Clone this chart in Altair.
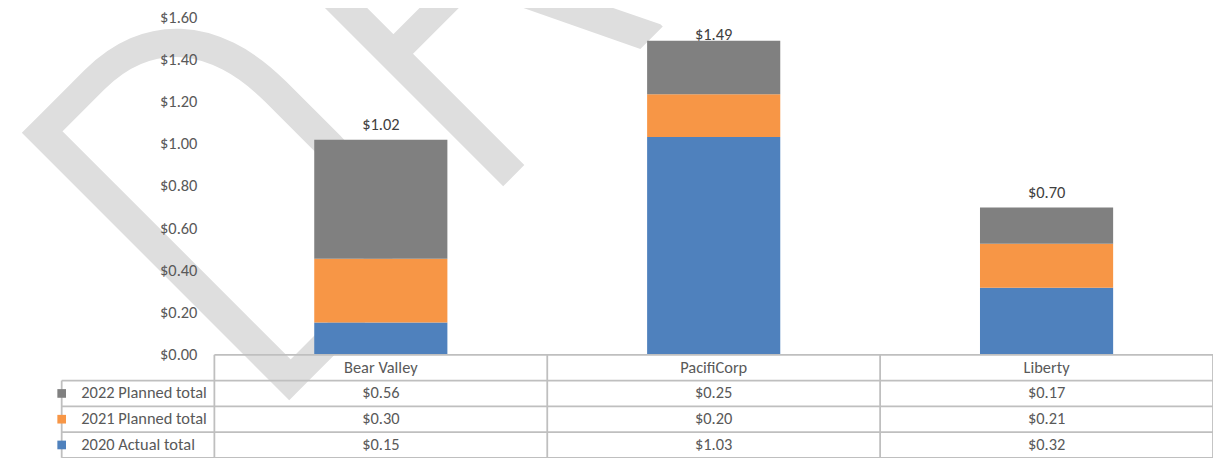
import altair as alt
import pandas as pd

# ---- data ----
companies = ["Bear Valley", "PacifiCorp", "Liberty"]
series = ["2020 Actual total", "2021 Planned total", "2022 Planned total"]
actual_2020 = [0.153, 1.032, 0.318]
planned_2021 = [0.302, 0.203, 0.208]
planned_2022 = [0.564, 0.254, 0.172]
series_colors = ["#4F81BD", "#F79646", "#808080"]
y_tick_values = [0.0, 0.2, 0.4, 0.6, 0.8, 1.0, 1.2, 1.4, 1.6]
watermark_text = ["DRAFT"]

FONT = "Carlito"
FS = 16.5
TEXT = "#595959"
LINE = "#BFBFBF"

# layout in scale units
LEG = 0.4587            # width of legend column, in company-column units
ROW = 0.1221            # height of one table row, in y units
NCOL = len(companies)
NROW = len(series) + 1  # header + series rows
LABEL_GAP = 0.047       # gap between bar top and total label (y units)
LABEL_MAX = 1.494       # total labels are kept below this level

values_by_series = [actual_2020, planned_2021, planned_2022]
recs = []
for ci, c in enumerate(companies):
    for si, s in enumerate(series):
        recs.append({"company": c, "col": ci, "series": s, "order": si,
                     "value": values_by_series[si][ci]})
df = pd.DataFrame(recs)
df["row"] = len(series) - df["order"]          # 2022 row 1 ... 2020 row 3

xscale = alt.Scale(domain=[-LEG, NCOL], nice=False, zero=False)
yscale = alt.Scale(domain=[-0.483, 1.6], nice=False, zero=False)
yaxis = alt.Axis(values=y_tick_values, format="$.2f", title=None, grid=False,
                 domain=False, ticks=False, tickSize=0, labelPadding=17.6,
                 offset=-153.6, labelFont=FONT, labelFontSize=FS,
                 labelColor=TEXT, zindex=1)
color_scale = alt.Scale(domain=series, range=series_colors)


def X(f):
    return alt.X(f, scale=xscale, axis=None)


def Y(f):
    return alt.Y(f, scale=yscale, axis=yaxis)


base = alt.Chart(df)

watermark = alt.Chart(pd.DataFrame({"t": watermark_text})).mark_text(
    angle=315, fontSize=535, color="#DEDEDE", align="left",
    baseline="alphabetic", font="Roboto Condensed", fontWeight=300
).encode(x=alt.value(197), y=alt.value(417), text="t:N")

bars = base.transform_stack(
    stack="value", groupby=["company"], as_=["y0", "y1"],
    sort=[alt.SortField("order")]
).transform_calculate(
    xa="datum.col + 0.3", xb="datum.col + 0.7"
).mark_bar().encode(
    x=X("xa:Q"), x2="xb:Q",
    y=Y("y0:Q"), y2="y1:Q",
    color=alt.Color("series:N", scale=color_scale, legend=None),
)

totals = base.transform_aggregate(
    total="sum(value)", groupby=["company", "col"]
).transform_calculate(
    xc="datum.col + 0.5",
    ly=f"min(datum.total + {LABEL_GAP}, {LABEL_MAX})"
).mark_text(
    fontSize=FS, font=FONT, color="#404040", baseline="alphabetic"
).encode(x=X("xc:Q"), y=Y("ly:Q"), text=alt.Text("total:Q", format="$.2f"))

# table grid lines
hl = pd.DataFrame({"k": list(range(NROW + 1))})
hlines = alt.Chart(hl).transform_calculate(
    yy=f"-datum.k * {ROW}", xa=f"datum.k == 0 ? 0 : {-LEG}", xb=f"{NCOL}"
).mark_rule(color=LINE, strokeWidth=1.8).encode(
    x=X("xa:Q"), x2="xb:Q", y=Y("yy:Q"))

vl = pd.DataFrame({"j": list(range(NCOL + 1)) + [-1]})
vlines = alt.Chart(vl).transform_calculate(
    xx=f"datum.j < 0 ? {-LEG} : datum.j",
    ya=f"datum.j < 0 ? {-ROW} : 0", yb=f"{-NROW * ROW}"
).mark_rule(color=LINE, strokeWidth=1.8).encode(
    x=X("xx:Q"), y=Y("ya:Q"), y2="yb:Q")

hdr = pd.DataFrame({"company": companies, "col": list(range(NCOL))})
header = alt.Chart(hdr).transform_calculate(
    xc="datum.col + 0.5", yc=f"{-0.5 * ROW}"
).mark_text(fontSize=FS, font=FONT, color=TEXT, baseline="middle").encode(
    x=X("xc:Q"), y=Y("yc:Q"), text="company:N")

cells = base.transform_calculate(
    xc="datum.col + 0.5", yc=f"-(datum.row + 0.5) * {ROW}"
).mark_text(fontSize=FS, font=FONT, color=TEXT, baseline="middle").encode(
    x=X("xc:Q"), y=Y("yc:Q"), text=alt.Text("value:Q", format="$.2f"))

leg_df = pd.DataFrame({"series": series, "order": list(range(len(series)))})
leg_df["row"] = len(series) - leg_df["order"]
leg_base = alt.Chart(leg_df).transform_calculate(
    xl=f"{-LEG}", yc=f"-(datum.row + 0.5) * {ROW}")
leg_sq = leg_base.mark_square(size=76, opacity=1, dx=10).encode(
    x=X("xl:Q"), y=Y("yc:Q"),
    color=alt.Color("series:N", scale=color_scale, legend=None))
leg_tx = leg_base.mark_text(fontSize=FS, font=FONT, color=TEXT, align="left",
                            baseline="middle", dx=19.7).encode(
    x=X("xl:Q"), y=Y("yc:Q"), text="series:N")

chart = alt.layer(
    watermark, bars, totals, hlines, vlines, header, cells, leg_sq, leg_tx
).properties(
    width=1158, height=442,
    autosize=alt.AutoSizeParams(type="none"),
    padding={"left": 54, "top": 8, "right": 0, "bottom": 0},
).configure_view(stroke=None)

chart.save("out.html", embed_options={"renderer": "svg", "actions": False})
